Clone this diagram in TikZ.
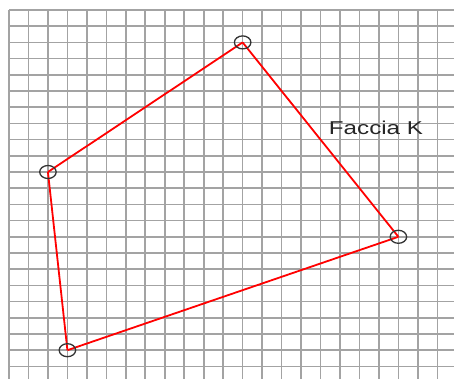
\documentclass[tikz,border=0pt]{standalone}
\usepackage{fontspec}
\usepackage{graphicx}
\setmainfont{Liberation Sans}
\usetikzlibrary{shapes.geometric}
\begin{document}
\begin{tikzpicture}[x=1pt,y=-1pt,
  gridline/.style={draw=black!36, line width=1.6pt},
  edge/.style={draw=red, line width=1.8pt},
  vertexmark/.style={draw=black!80, line width=1.3pt, ellipse, minimum width=16.5pt, minimum height=13pt, inner sep=0pt},
  label/.style={text=black!85, font=\fontsize{18.6}{20}\selectfont, inner sep=0pt}]
\useasboundingbox[fill=white] (0,0) rectangle (454,379);
% grid
\foreach \k in {0,...,22} {
  \draw[gridline] ({9+19.47*\k},10) -- ({9+19.47*\k},379);
  \draw[gridline] (9,{10+16.2*\k}) -- (454,{10+16.2*\k});
}
% vertices (grid points)
\coordinate (T) at ({9+19.47*12},{10+16.2*2});
\coordinate (L) at ({9+19.47*2},{10+16.2*10});
\coordinate (B) at ({9+19.47*3},{10+16.2*21});
\coordinate (R) at ({9+19.47*20},{10+16.2*14});
% edges
\draw[edge] (T) -- (R);
\draw[edge] (R) -- (B);
\draw[edge] (B) -- (L);
\draw[edge] (L) -- (T);
% vertex circles
\node[vertexmark] (cT) at (T) {};
\node[vertexmark] (cL) at (L) {};
\node[vertexmark] (cB) at (B) {};
\node[vertexmark] (cR) at (R) {};
% label
\node[label, anchor=base] (lab) at (376,135) {\scalebox{1.3}[1]{Faccia K}};
\end{tikzpicture}
\end{document}
